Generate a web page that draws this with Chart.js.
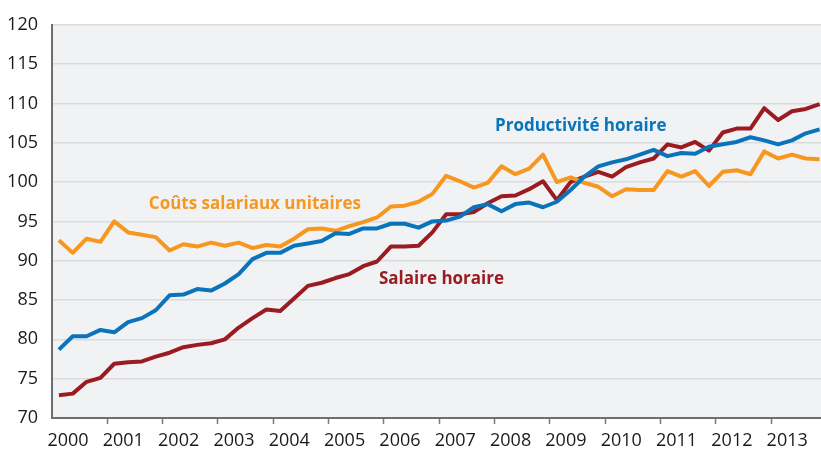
<!DOCTYPE html>
<html>
<head>
<meta charset="utf-8">
<script src="https://cdn.jsdelivr.net/npm/chart.js@4.4.1/dist/chart.umd.min.js"></script>
<style>
html,body{margin:0;padding:0;background:#fff;}
#wrap{width:821px;height:454px;position:relative;}
</style>
</head>
<body>
<div id="wrap"><canvas id="c" width="821" height="454"></canvas></div>
<script>
// Year tick labels (one per year, quarterly data)
const yearLabels = ['2000','2001','2002','2003','2004','2005','2006','2007','2008','2009','2010','2011','2012','2013'];
// Series values, quarterly 2000Q1 .. 2013Q4
const coutsSalariauxUnitaires = [
  92.6, 91.0, 92.8, 92.4, 95.0, 93.6, 93.3, 93.0, 91.3, 92.1, 91.8, 92.3, 91.9, 92.3, 91.6, 92.0,
  91.8, 92.8, 94.0, 94.1, 93.8, 94.4, 94.9, 95.5, 96.9, 97.0, 97.5, 98.5, 100.8, 100.1, 99.3, 99.9,
  102.0, 101.0, 101.7, 103.5, 100.0, 100.6, 99.9, 99.4, 98.2, 99.1, 99.0, 99.0, 101.4, 100.7, 101.4, 99.5,
  101.3, 101.5, 101.0, 103.9, 103.0, 103.5, 103.0, 102.9
];
const productiviteHoraire = [
  78.7, 80.4, 80.4, 81.2, 80.9, 82.2, 82.7, 83.7, 85.6, 85.7, 86.4, 86.2, 87.1, 88.3, 90.2, 91.0,
  91.0, 91.9, 92.2, 92.5, 93.5, 93.4, 94.1, 94.1, 94.7, 94.7, 94.2, 95.0, 95.1, 95.6, 96.8, 97.2,
  96.3, 97.2, 97.4, 96.8, 97.5, 99.0, 100.7, 102.0, 102.5, 102.9, 103.5, 104.1, 103.3, 103.7, 103.6, 104.5,
  104.8, 105.1, 105.7, 105.3, 104.8, 105.3, 106.2, 106.7
];
const salaireHoraire = [
  72.9, 73.1, 74.6, 75.1, 76.9, 77.1, 77.2, 77.8, 78.3, 79.0, 79.3, 79.5, 80.0, 81.5, 82.7, 83.8,
  83.6, 85.2, 86.8, 87.2, 87.8, 88.3, 89.3, 89.9, 91.8, 91.8, 91.9, 93.6, 95.9, 95.9, 96.2, 97.3,
  98.2, 98.3, 99.1, 100.1, 97.7, 100.0, 100.7, 101.3, 100.7, 101.9, 102.5, 103.0, 104.8, 104.4, 105.1, 104.0,
  106.3, 106.8, 106.8, 109.4, 107.9, 109.0, 109.3, 109.9
];
const yTicks = [70, 75, 80, 85, 90, 95, 100, 105, 110, 115, 120];

const COL_ORANGE = '#f7971f';
const COL_BLUE = '#0a74bb';
const COL_RED = '#9a1c22';

const toPts = arr => arr.map((v, i) => ({ x: i + 0.5, y: v }));

const labels = [
  { text: 'Productivité horaire', x: 32.03, y: 107.06, color: COL_BLUE },
  { text: 'Coûts salariaux unitaires', x: 7.0, y: 97.2, color: COL_ORANGE },
  { text: 'Salaire horaire', x: 23.64, y: 87.7, color: COL_RED }
];

const bgPlugin = {
  id: 'bg',
  beforeDraw(chart) {
    const { ctx, chartArea: a } = chart;
    ctx.save();
    ctx.fillStyle = '#fff';
    ctx.fillRect(0, 0, chart.width, chart.height);
    ctx.fillStyle = '#f1f2f4';
    ctx.fillRect(a.left, a.top, a.right - a.left, a.bottom - a.top);
    ctx.restore();
  }
};
const labelPlugin = {
  id: 'seriesLabels',
  afterDatasetsDraw(chart) {
    const { ctx, scales } = chart;
    ctx.save();
    ctx.font = 'bold 17px "Open Sans", sans-serif';
    ctx.textBaseline = 'middle';
    ctx.textAlign = 'left';
    labels.forEach(l => {
      ctx.fillStyle = l.color;
      ctx.fillText(l.text, scales.x.getPixelForValue(l.x), scales.y.getPixelForValue(l.y));
    });
    ctx.restore();
  }
};

new Chart(document.getElementById('c'), {
  type: 'line',
  data: {
    datasets: [
      { label: 'Productivité horaire', data: toPts(productiviteHoraire), borderColor: COL_BLUE },
      { label: 'Coûts salariaux unitaires', data: toPts(coutsSalariauxUnitaires), borderColor: COL_ORANGE },
      { label: 'Salaire horaire', data: toPts(salaireHoraire), borderColor: COL_RED }
    ]
  },
  options: {
    responsive: false,
    animation: false,
    layout: { padding: { top: 20, right: 0, left: 0, bottom: 0 } },
    elements: {
      line: { borderWidth: 4, tension: 0, borderJoinStyle: 'round', borderCapStyle: 'butt' },
      point: { radius: 0, hoverRadius: 0 }
    },
    plugins: { legend: { display: false }, tooltip: { enabled: false } },
    scales: {
      x: {
        type: 'linear',
        min: 0,
        max: 55.6,
        afterFit(s) { s.height = 36; },
        afterBuildTicks(s) { s.ticks = yearLabels.map((_, i) => ({ value: i * 4 })); },
        ticks: {
          autoSkip: false,
          maxRotation: 0,
          padding: 6,
          labelOffset: 16,
          color: '#1a1a1a',
          font: { family: '"Open Sans", sans-serif', size: 18 },
          callback: (v) => yearLabels[Math.round(v / 4)]
        },
        grid: {
          drawOnChartArea: false,
          drawTicks: true,
          tickLength: 6,
          tickWidth: 1.5,
          tickColor: (c) => c.index === 0 ? 'rgba(0,0,0,0)' : '#7a7a7a'
        },
        border: { display: true, color: '#6e6e6e', width: 2 }
      },
      y: {
        type: 'linear',
        min: 70,
        max: 120,
        afterFit(s) { s.width = 52; },
        afterBuildTicks(s) { s.ticks = yTicks.map(v => ({ value: v })); },
        ticks: {
          padding: 14,
          color: '#1a1a1a',
          font: { family: '"Open Sans", sans-serif', size: 18 }
        },
        grid: {
          drawTicks: false,
          color: '#dadbdd',
          lineWidth: 1.5
        },
        border: { display: true, color: '#6e6e6e', width: 2 }
      }
    }
  },
  plugins: [bgPlugin, labelPlugin]
});
</script>
</body>
</html>
